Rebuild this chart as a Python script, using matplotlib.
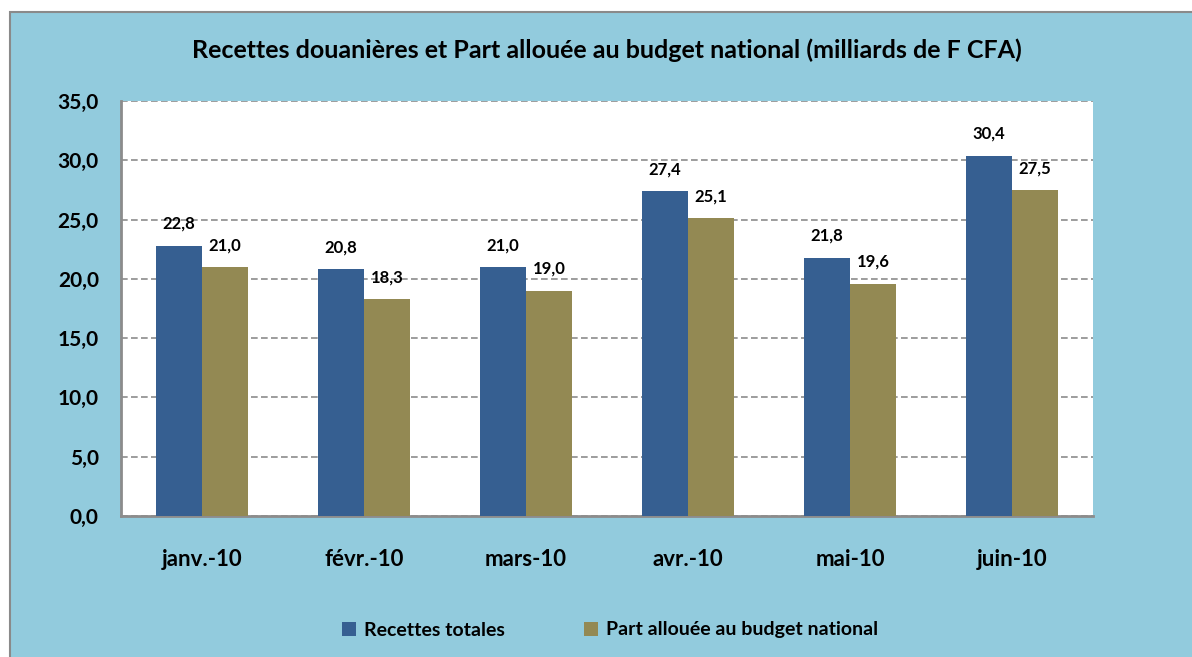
import matplotlib
matplotlib.use("Agg")
import matplotlib.pyplot as plt
from matplotlib.patches import Rectangle
import numpy as np

categories = ["janv.-10", "févr.-10", "mars-10", "avr.-10", "mai-10", "juin-10"]
recettes = [22.8, 20.8, 21.0, 27.4, 21.8, 30.4]
part = [21.0, 18.3, 19.0, 25.1, 19.6, 27.5]
yticks = [0, 5, 10, 15, 20, 25, 30, 35]

plt.rcParams['font.family'] = ['Lato', 'DejaVu Sans']
plt.rcParams['font.weight'] = 'bold'

fig = plt.figure(figsize=(11.92, 6.57), dpi=100)
fig.patch.set_facecolor('white')
bg = '#92CBDD'
panel = Rectangle((10/1192, -0.01), 1.0, 1 - 12/657 + 0.01, transform=fig.transFigure,
                  facecolor=bg, edgecolor='#8a8a8a', linewidth=1.5, zorder=-10)
fig.patches.append(panel)

ax = fig.add_axes([121/1192, 1 - 516/657, (1093-121)/1192, (516-101)/657])
ax.set_zorder(1)
ax.set_facecolor('white')
x = np.arange(len(categories))
w = 0.284
b1 = ax.bar(x - w/2, recettes, w, color='#365F91', label='Recettes totales', zorder=3)
b2 = ax.bar(x + w/2, part, w, color='#938953', label='Part allouée au budget national', zorder=3)
for rects, vals in ((b1, recettes), (b2, part)):
    for r, v in zip(rects, vals):
        ax.annotate(f"{v:.1f}".replace('.', ','), (r.get_x() + r.get_width()/2, v),
                    xytext=(0, 10), textcoords='offset points', ha='center', va='bottom',
                    fontsize=12, fontweight='bold')

ax.set_xlim(-0.5, len(categories) - 0.5)
ax.set_ylim(0, 35)
ax.set_yticks(yticks)
ax.set_yticklabels([f"{v:.1f}".replace('.', ',') for v in yticks], fontsize=15, fontweight='bold')
ax.set_xticks(x)
ax.set_xticklabels(categories, fontsize=16, fontweight='bold')
ax.tick_params(axis='both', length=0)
ax.tick_params(axis='y', pad=16)
ax.tick_params(axis='x', pad=24)
ax.yaxis.grid(True, color='#8c8c8c', linestyle=(0, (4, 2)), linewidth=1.2, zorder=0)
ax.set_axisbelow(True)
for s in ('top', 'right'):
    ax.spines[s].set_visible(False)
for s in ('left', 'bottom'):
    ax.spines[s].set_color('#8c8c8c')
    ax.spines[s].set_linewidth(2)

fig.text(607/1192, 1 - 50/657, "Recettes douanières et Part allouée au budget national (milliards de F CFA)",
         ha='center', va='center', fontsize=18, fontweight='bold')

leg = fig.legend(handles=[b1, b2], loc='center', bbox_to_anchor=(610/1192, 1 - 630/657), ncol=2,
                 frameon=False, fontsize=14, handlelength=0.7, handleheight=0.7,
                 handletextpad=0.4, columnspacing=4.1)
for t in leg.get_texts():
    t.set_fontweight('bold')

fig.savefig('out.png', dpi=100, facecolor=fig.get_facecolor())
